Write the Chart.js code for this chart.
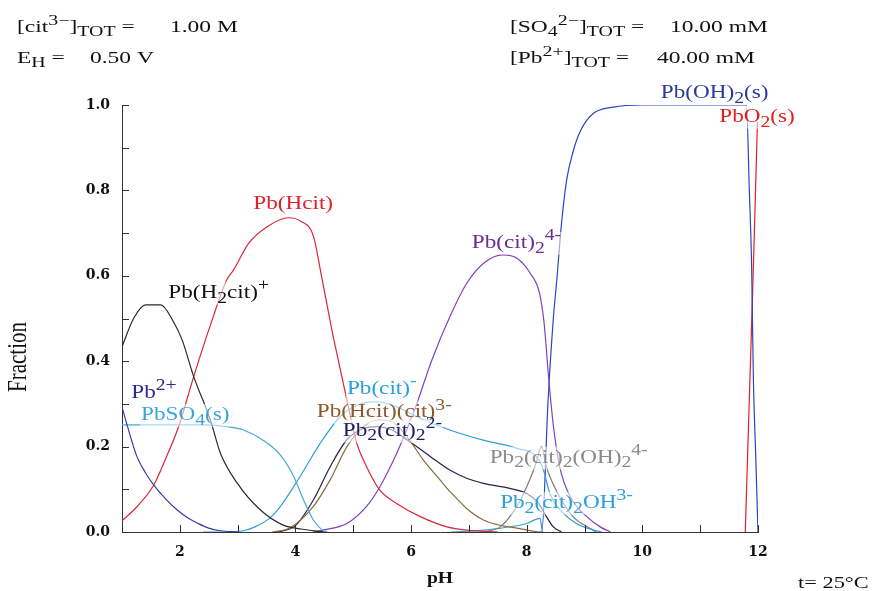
<!DOCTYPE html>
<html><head><meta charset="utf-8">
<script src="https://cdn.jsdelivr.net/npm/chart.js@4.4.1/dist/chart.umd.min.js"></script>
<style>html,body{margin:0;padding:0;background:#fff}canvas{display:block}</style>
</head><body>
<canvas id="c" width="890" height="591"></canvas>
<script>
// ---- data (pH, fraction) ----
const pbIonPH   = [1.0,1.1,1.26,1.4,1.55,1.75,1.95,2.15,2.3,2.5,2.7,3.0];
const pbIonFr   = [0.293,0.245,0.176,0.14,0.11,0.078,0.052,0.032,0.021,0.009,0.003,0.0];
const pbH2citPH = [1.0,1.2,1.41,1.67,1.89,2.04,2.24,2.53,2.70,2.99,3.39,3.79,4.1,4.5];
const pbH2citFr = [0.434,0.50,0.532,0.532,0.4925,0.45,0.364,0.262,0.185,0.115,0.052,0.016,0.007,0.0];
const pbHcitPH  = [1.0,1.25,1.55,1.75,1.98,2.24,2.53,2.81,2.93,3.19,3.51,3.88,4.09,4.31,4.45,4.63,4.74,4.89,5.06,5.23,5.46,5.75,6.16,6.62,7.0,7.5];
const pbHcitFr  = [0.026,0.058,0.11,0.17,0.247,0.364,0.485,0.59,0.614,0.676,0.715,0.736,0.728,0.693,0.60,0.473,0.403,0.309,0.208,0.153,0.098,0.067,0.036,0.012,0.004,0];
const pbSO4PH   = [1.0,1.5,2.0,2.47,2.8,3.10,3.44,3.74,3.97,4.14,4.31,4.46,4.55];
const pbSO4Fr   = [0.251,0.251,0.251,0.251,0.247,0.239,0.215,0.18,0.13,0.075,0.028,0.005,0];
const pbCitPH   = [2.4,2.7,3.1,3.3,3.56,3.74,4.08,4.43,4.77,5.06,5.41,5.75,6.16,6.67,7.25,7.83,8.17,8.29,8.40,8.58,8.86,9.15,9.3];
const pbCitFr   = [0.0,0.0,0.003,0.012,0.033,0.06,0.13,0.208,0.27,0.297,0.305,0.293,0.266,0.239,0.215,0.196,0.176,0.145,0.09,0.052,0.02,0.005,0];
const pbHcitCitPH = [3.6,3.91,4.31,4.6,4.89,5.18,5.41,5.64,5.93,6.21,6.5,6.67,6.85,6.96,7.25,7.5,7.83,8.2];
const pbHcitCitFr = [0,0.01,0.06,0.122,0.2,0.247,0.262,0.26,0.223,0.169,0.122,0.095,0.07,0.055,0.028,0.017,0.009,0];
const pb2Cit2PH = [3.7,4.0,4.31,4.6,4.89,5.18,5.41,5.65,5.93,6.33,6.67,6.96,7.25,7.71,8.0,8.2,8.34,8.46,8.6];
const pb2Cit2Fr = [0,0.015,0.075,0.153,0.216,0.243,0.247,0.24,0.216,0.177,0.145,0.126,0.114,0.102,0.09,0.068,0.036,0.012,0];
const pbCit2PH  = [4.3,4.49,4.89,5.23,5.46,5.75,6.04,6.36,6.67,6.96,7.25,7.59,7.83,8.06,8.22,8.3,8.38,8.46,8.57,8.75,9.04,9.27,9.45];
const pbCit2Fr  = [0,0.005,0.02,0.06,0.106,0.184,0.278,0.403,0.504,0.582,0.629,0.649,0.641,0.606,0.56,0.49,0.36,0.25,0.153,0.083,0.036,0.012,0];
const pbOH2PH   = [8.2,8.26,8.37,8.46,8.52,8.6,8.69,8.8,8.92,9.15,9.5,10.0,11.0,11.8,11.85,11.89,11.92,11.96,12.0];
const pbOH2Fr   = [0,0,0.31,0.5,0.59,0.72,0.824,0.89,0.937,0.98,0.995,1.0,1.0,1.0,0.8,0.62,0.36,0.18,0];
const pbO2PH    = [11.78,11.86,11.92,11.99];
const pbO2Fr    = [0,0.356,0.62,0.96];
const pb2OH2PH  = [7.2,7.54,7.83,8.0,8.14,8.26,8.34,8.52,8.8,9.09,9.2];
const pb2OH2Fr  = [0,0.012,0.06,0.106,0.153,0.2,0.153,0.095,0.036,0.009,0];
const pb2OHPH   = [6.7,7.2,7.6,8.0,8.23,8.27];
const pb2OHFr   = [0,0.004,0.01,0.02,0.032,0];

const xTickValues = [2,4,6,8,10,12];

// ---- series table ----
const series = [
  {name:'Pb2+',            ph:pbIonPH,     fr:pbIonFr,     color:'#3b3ba6'},
  {name:'Pb(H2cit)+',      ph:pbH2citPH,   fr:pbH2citFr,   color:'#2a2a2a'},
  {name:'Pb(Hcit)',        ph:pbHcitPH,    fr:pbHcitFr,    color:'#d8283a'},
  {name:'PbSO4(s)',        ph:pbSO4PH,     fr:pbSO4Fr,     color:'#45a8d2'},
  {name:'Pb(cit)-',        ph:pbCitPH,     fr:pbCitFr,     color:'#2f9fd6'},
  {name:'Pb(Hcit)(cit)3-', ph:pbHcitCitPH, fr:pbHcitCitFr, color:'#8c6a3c'},
  {name:'Pb2(cit)2 2-',    ph:pb2Cit2PH,   fr:pb2Cit2Fr,   color:'#22224e'},
  {name:'Pb(cit)2 4-',     ph:pbCit2PH,    fr:pbCit2Fr,    color:'#8040c0'},
  {name:'Pb2(cit)2(OH)2',  ph:pb2OH2PH,    fr:pb2OH2Fr,    color:'#7a7a7a'},
  {name:'Pb2(cit)2OH3-',   ph:pb2OHPH,     fr:pb2OHFr,     color:'#2f9fd6'},
  {name:'Pb(OH)2(s)',      ph:pbOH2PH,     fr:pbOH2Fr,     color:'#2a44c4'},
  {name:'PbO2(s)',         ph:pbO2PH,      fr:pbO2Fr,      color:'#e02028'}
];

// ---- in-plot labels (anchored in data coordinates) ----
const labels = [
  {t:'Pb(Hcit)',                 x:3.27,  y:0.756, c:'#e0202a'},
  {t:'Pb(H_{2}cit)^{+}',         x:1.80,  y:0.548, c:'#111111'},
  {t:'Pb^{2+}',                  x:1.16,  y:0.314, c:'#2b2b8f'},
  {t:'PbSO_{4}(s)',              x:1.33,  y:0.262, c:'#3aa6d8'},
  {t:'Pb(cit)^{-}',              x:4.89,  y:0.323, c:'#2aa0d8'},
  {t:'Pb(Hcit)(cit)^{3-}',       x:4.37,  y:0.269, c:'#8b5a2b'},
  {t:'Pb_{2}(cit)_{2}^{2-}',     x:4.82,  y:0.225, c:'#1c1c66'},
  {t:'Pb(cit)_{2}^{4-}',         x:7.05,  y:0.665, c:'#6a2c91'},
  {t:'Pb_{2}(cit)_{2}(OH)_{2}^{4-}', x:7.36, y:0.162, c:'#8a8a8a'},
  {t:'Pb_{2}(cit)_{2}OH^{3-}',   x:7.54,  y:0.056, c:'#2aa0d8'},
  {t:'Pb(OH)_{2}(s)',            x:10.32, y:1.016, c:'#2a3a9a'},
  {t:'PbO_{2}(s)',               x:11.33, y:0.960, c:'#e02020'}
];

const SERIF = '"Liberation Serif", "Times New Roman", serif';

function rich(ctx, str, x, y, o) {
  const size = o.size, sx = o.sx || 1, w8 = o.weight || 'normal';
  const toks = [];
  const re = /([_^])\{([^}]*)\}|([^_^]+)/g; let m;
  while ((m = re.exec(str))) {
    if (m[3] !== undefined) toks.push({s:m[3], k:0});
    else toks.push({s:m[2], k: m[1] === '_' ? 1 : 2});
  }
  ctx.save();
  let w = 0;
  toks.forEach(t => {
    const fs = t.k ? size * 0.85 : size;
    ctx.font = w8 + ' ' + fs + 'px ' + SERIF;
    t.fs = fs; t.w = ctx.measureText(t.s).width; w += t.w;
  });
  if (o.bg) {
    ctx.fillStyle = 'rgba(255,255,255,0.55)';
    ctx.fillRect(x - 1, y - size * 0.85, w * sx + 2, size * 1.2);
  }
  ctx.translate(x, y);
  ctx.scale(sx, 1);
  ctx.fillStyle = o.color; ctx.textBaseline = 'alphabetic'; ctx.textAlign = 'left';
  let cx = 0;
  toks.forEach(t => {
    ctx.font = w8 + ' ' + t.fs + 'px ' + SERIF;
    const dy = t.k === 1 ? size * 0.24 : t.k === 2 ? -size * 0.4 : 0;
    ctx.fillText(t.s, cx, dy);
    cx += t.w;
  });
  ctx.restore();
  return w * sx;
}

const decor = {
  id: 'decor',
  beforeDraw(chart) {
    const ctx = chart.ctx;
    ctx.save(); ctx.fillStyle = '#fff'; ctx.fillRect(0, 0, chart.width, chart.height); ctx.restore();
  },
  afterDatasetsDraw(chart) {
    const ctx = chart.ctx, xs = chart.scales.x, ys = chart.scales.y;
    const a = chart.chartArea;
    // inward tick marks
    ctx.save();
    ctx.strokeStyle = '#333'; ctx.lineWidth = 1;
    ys.ticks.forEach(t => {
      const py = Math.round(ys.getPixelForValue(t.value)) + 0.5;
      ctx.beginPath(); ctx.moveTo(a.left, py); ctx.lineTo(a.left + 7, py); ctx.stroke();
    });
    xs.ticks.forEach(t => {
      const px = Math.round(xs.getPixelForValue(t.value)) + 0.5;
      ctx.beginPath(); ctx.moveTo(px, a.bottom); ctx.lineTo(px, a.bottom - 7); ctx.stroke();
    });
    ctx.restore();
    // species labels
    labels.forEach(l => {
      rich(ctx, l.t, xs.getPixelForValue(l.x), ys.getPixelForValue(l.y), {size:19, sx:1.22, color:l.c, bg:true});
    });
    // header
    const h = {size:17, sx:1.38, color:'#111'};
    rich(ctx, '[cit^{3\u2212}]_{TOT} =', 17, 32, h);
    rich(ctx, '1.00 M', 170, 32, h);
    rich(ctx, 'E_{H} =', 17, 63, h);
    rich(ctx, '0.50 V', 90, 63, h);
    rich(ctx, '[SO_{4}^{2\u2212}]_{TOT} =', 510, 32, h);
    rich(ctx, '10.00 mM', 670, 32, h);
    rich(ctx, '[Pb^{2+}]_{TOT} =', 510, 63, h);
    rich(ctx, '40.00 mM', 657, 63, h);
    // axis titles
    rich(ctx, 'pH', 427, 583, {size:17, sx:1.15, color:'#111', weight:'bold'});
    rich(ctx, 't= 25\u00B0C', 798, 588, {size:16, sx:1.4, color:'#111'});
    ctx.save();
    ctx.translate(19, 357);
    ctx.scale(1.25, 1);
    ctx.rotate(-Math.PI / 2);
    ctx.font = '21px ' + SERIF; ctx.fillStyle = '#111';
    ctx.textAlign = 'center'; ctx.textBaseline = 'middle';
    ctx.fillText('Fraction', 0, 0);
    ctx.restore();
  }
};

const tickFont = {family: '"DejaVu Serif", serif', size: 14, weight: 'bold'};

new Chart(document.getElementById('c'), {
  type: 'line',
  data: {
    datasets: series.map(s => ({
      label: s.name,
      data: s.ph.map((p, i) => ({x: p, y: s.fr[i]})),
      borderColor: s.color,
      borderWidth: 1.2,
      pointRadius: 0,
      fill: false,
      cubicInterpolationMode: 'monotone'
    }))
  },
  options: {
    responsive: false,
    devicePixelRatio: 1,
    animation: false,
    layout: {padding: {left: 0, right: 132, top: 105, bottom: 0}},
    plugins: {legend: {display: false}, tooltip: {enabled: false}},
    scales: {
      x: {
        type: 'linear', min: 1, max: 12,
        afterFit: s => { s.height = 59; },
        grid: {display: true, drawOnChartArea: false, drawTicks: false},
        border: {display: true, color: '#333', width: 1},
        ticks: {
          stepSize: 1, autoSkip: false, maxRotation: 0, padding: 12,
          color: '#111', font: tickFont,
          callback: v => xTickValues.includes(v) ? String(v) : ''
        }
      },
      y: {
        type: 'linear', min: 0, max: 1,
        afterFit: s => { s.width = 122; },
        grid: {display: true, drawOnChartArea: false, drawTicks: false},
        border: {display: true, color: '#333', width: 1},
        ticks: {
          stepSize: 0.1, autoSkip: false, padding: 12,
          color: '#111', font: tickFont,
          callback: v => (Math.round(v * 10) % 2 === 0) ? v.toFixed(1) : ''
        }
      }
    }
  },
  plugins: [decor]
});
</script>
</body></html>
